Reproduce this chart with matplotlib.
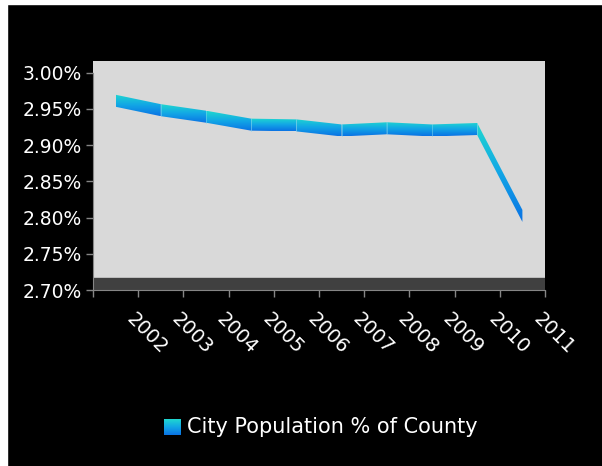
import matplotlib
matplotlib.use('Agg')
import matplotlib.pyplot as plt
import matplotlib.transforms as mtransforms
from matplotlib.colors import LinearSegmentedColormap
from matplotlib.patches import Polygon, Rectangle
from matplotlib.ticker import FuncFormatter
import numpy as np

# City share of county population, by year
years = ['2002', '2003', '2004', '2005', '2006', '2007', '2008', '2009', '2010', '2011']
pct = [2.953, 2.940, 2.931, 2.920, 2.919, 2.912, 2.915, 2.912, 2.914, 2.794]
series_name = 'City Population % of County'

y_ticks = [2.70, 2.75, 2.80, 2.85, 2.90, 2.95, 3.00]

ribbon_cmap = LinearSegmentedColormap.from_list('ribbon', ['#0a72e4', '#12a6e6', '#20d8cf'])
depth = 0.0166  # ribbon / floor depth in value units
font = 'DejaVu Sans'

fig = plt.figure(figsize=(6.02, 4.66), dpi=100, facecolor='black')
# thin white margin on the left and top edges
fig.patches.append(Rectangle((0, 0), 7 / 602, 1, transform=fig.transFigure,
                             color='white', zorder=-10))
fig.patches.append(Rectangle((0, 1 - 4 / 466), 1, 4 / 466, transform=fig.transFigure,
                             color='white', zorder=-10))

ax = fig.add_axes([93 / 602, 176 / 466, 452 / 602, 229 / 466])
ax.set_facecolor('#d9d9d9')

x = np.arange(len(years))
ymin, ymax = 2.70, 3.0162

# dark floor
ax.axhspan(ymin, ymin + depth, color='#404040', zorder=1)

# 3D-style ribbon: one gradient-filled face per segment
grad = np.linspace(0, 1, 256).reshape(-1, 1)
for i in range(len(x) - 1):
    x0, x1 = x[i], x[i + 1]
    v0, v1 = pct[i], pct[i + 1]
    verts = [(x0, v0), (x1, v1), (x1, v1 + depth), (x0, v0 + depth)]
    poly = Polygon(verts, closed=True, facecolor='none', edgecolor='none')
    ax.add_patch(poly)
    lo = min(v0, v1)
    hi = max(v0, v1) + depth
    im = ax.imshow(grad, cmap=ribbon_cmap, origin='lower', aspect='auto',
                   extent=[x0, x1, lo, hi], zorder=3, interpolation='bilinear')
    im.set_clip_path(poly)
    # faint seam at the segment joint
    if i > 0:
        ax.plot([x0, x0], [v0, v0 + depth], color='#7fd8f0', lw=0.6, alpha=0.6, zorder=4)

ax.set_xlim(-0.5, len(years) - 0.5)
ax.set_ylim(ymin, ymax)

# axes styling
for side in ['top', 'right']:
    ax.spines[side].set_visible(False)
ax.spines['left'].set_color('#868686')
ax.spines['bottom'].set_color('#868686')
ax.spines['left'].set_bounds(ymin, 3.00)

ax.set_yticks(y_ticks)
ax.yaxis.set_major_formatter(FuncFormatter(lambda v, p: f'{v:.2f}%'))
ax.tick_params(axis='y', colors='#868686', labelcolor='white', length=5, width=1,
               pad=3, labelsize=13.5)

# ticks on category boundaries, labels at category centers
ax.set_xticks(np.arange(len(years) + 1) - 0.5, minor=True)
ax.set_xticks(x)
ax.set_xticklabels(years)
ax.tick_params(axis='x', which='minor', colors='#868686', length=5, width=1)
ax.tick_params(axis='x', which='major', length=0, pad=19, labelcolor='white', labelsize=14)
offset = mtransforms.ScaledTranslation(0.14, 0, fig.dpi_scale_trans)
for lab in ax.get_xticklabels():
    lab.set_rotation(-45)
    lab.set_rotation_mode('anchor')
    lab.set_ha('left')
    lab.set_va('center')
    lab.set_transform(lab.get_transform() + offset)

for lab in ax.get_xticklabels() + ax.get_yticklabels():
    lab.set_fontfamily(font)

# legend: gradient swatch plus label
lax = fig.add_axes([164 / 602, 31 / 466, 16.5 / 602, 16 / 466])
lax.imshow(grad, cmap=ribbon_cmap, origin='lower', aspect='auto', interpolation='bilinear')
lax.axis('off')
fig.text(187 / 602, 39 / 466, series_name, color='white', fontsize=15,
         fontfamily=font, ha='left', va='center')

fig.savefig('out.png', dpi=100, facecolor='black')
